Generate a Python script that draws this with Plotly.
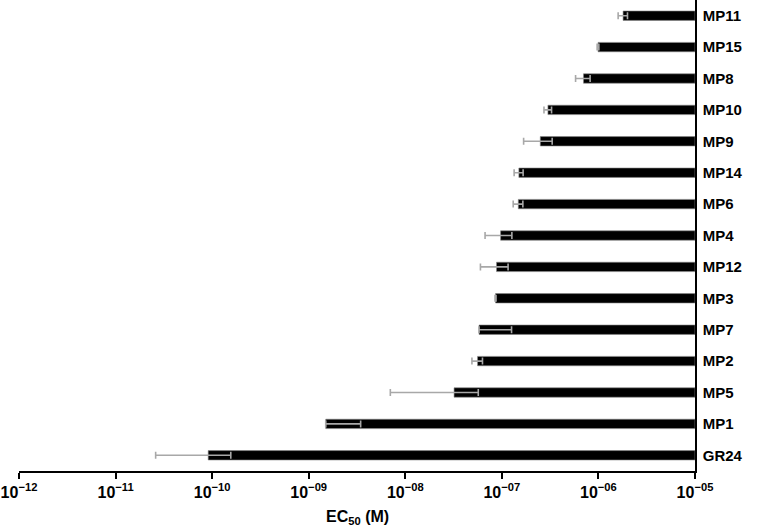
import plotly.graph_objects as go

# EC50 values (M), top to bottom as drawn
compounds = ["MP11", "MP15", "MP8", "MP10", "MP9", "MP14", "MP6", "MP4",
             "MP12", "MP3", "MP7", "MP2", "MP5", "MP1", "GR24"]
ec50 = [1.8e-6, 9.9e-7, 7.0e-7, 3.0e-7, 2.5e-7, 1.5e-7, 1.48e-7, 9.7e-8,
        8.8e-8, 8.6e-8, 5.8e-8, 5.6e-8, 3.2e-8, 1.5e-9, 9.1e-11]
sd_plus = [0.2e-6, 0.02e-6, 1.2e-7, 0.27e-7, 0.82e-7, 0.16e-7, 0.17e-7, 3.0e-8,
           2.8e-8, 0.1e-8, 6.8e-8, 0.7e-8, 2.5e-8, 1.95e-9, 6.5e-11]
# lower whiskers; clipped to zero where mean - SD would go negative
sd_minus = [0.2e-6, 0.02e-6, 1.2e-7, 0.27e-7, 0.82e-7, 0.16e-7, 0.17e-7, 3.0e-8,
            2.8e-8, 0.1e-8, 0.0, 0.7e-8, 2.5e-8, 0.0, 6.5e-11]

tick_vals = [1e-12, 1e-11, 1e-10, 1e-9, 1e-8, 1e-7, 1e-6, 1e-5]
tick_text = ["10<sup>−12</sup>", "10<sup>−11</sup>", "10<sup>−10</sup>", "10<sup>−09</sup>",
             "10<sup>−08</sup>", "10<sup>−07</sup>", "10<sup>−06</sup>", "10<sup>−05</sup>"]

x_max = 1e-5

fig = go.Figure()

# bars hang from the right edge (1e-5) down to the EC50 value
fig.add_trace(go.Bar(y=compounds, x=[x_max - v for v in ec50], base=ec50,
                     orientation="h", width=0.3,
                     marker=dict(color="black", line=dict(width=0.6, color="#8a8a8a")),
                     showlegend=False, hoverinfo="skip"))

# error bars around the bar tips
fig.add_trace(go.Scatter(y=compounds, x=ec50, mode="markers",
                         marker=dict(size=1, opacity=0),
                         error_x=dict(type="data", symmetric=False,
                                      array=sd_plus, arrayminus=sd_minus,
                                      color="#a8a8a8", thickness=1.6, width=3.5),
                         showlegend=False))

fig.update_layout(width=757, height=531, plot_bgcolor="white", paper_bgcolor="white",
                  margin=dict(l=19, r=62, t=0, b=60),
                  font=dict(family="Liberation Sans, Arial", color="black"))

fig.update_xaxes(type="log", range=[-12, -5], tickvals=tick_vals,
                 ticktext=["<b>%s</b>" % t for t in tick_text],
                 ticks="outside", ticklen=6, tickwidth=1.5, tickcolor="black",
                 showline=True, linecolor="black", linewidth=1.5,
                 showgrid=False, zeroline=False, automargin=False,
                 tickfont=dict(size=16))

fig.update_yaxes(side="right", range=[14.5, -0.5], showline=True, linecolor="black",
                 linewidth=1.5, ticks="", showgrid=False, zeroline=False, automargin=False,
                 tickfont=dict(size=15), ticklabelstandoff=3,
                 tickvals=compounds, ticktext=["<b>%s</b>" % c for c in compounds])

# axis title
fig.add_annotation(text="<b>EC<sub>50</sub> (M)</b>", xref="paper", yref="paper",
                   x=0.5, y=-0.098, xanchor="center", yanchor="middle",
                   showarrow=False, font=dict(size=16))

fig.write_html("out.html", config={"displayModeBar": False},
               post_script="document.body.style.margin='0';")
